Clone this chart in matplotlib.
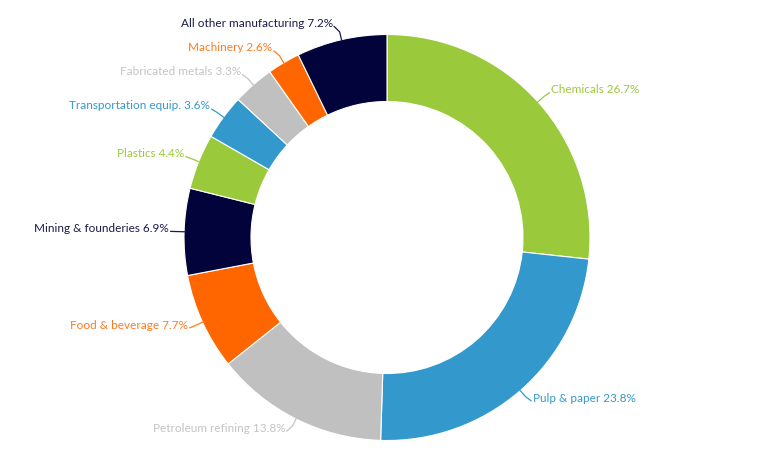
import numpy as np
import matplotlib.pyplot as plt

# share of industrial energy use by sector (%)
sectors = ["Chemicals", "Pulp & paper", "Petroleum refining", "Food & beverage",
           "Mining & founderies", "Plastics", "Transportation equip.",
           "Fabricated metals", "Machinery", "All other manufacturing"]
shares = [26.7, 23.8, 13.8, 7.7, 6.9, 4.4, 3.6, 3.3, 2.6, 7.2]
colors = ["#9aca3c", "#3399cc", "#c0c0c0", "#ff6600", "#02033a",
          "#9aca3c", "#3399cc", "#c0c0c0", "#ff6600", "#02033a"]
text_colors = ["#9aca3c", "#3399cc", "#c4c4c4", "#ff7a1f", "#1b1b4a",
               "#9aca3c", "#3399cc", "#c4c4c4", "#ff7a1f", "#1b1b4a"]

plt.rcParams["font.family"] = ["Lato", "DejaVu Sans"]

fig = plt.figure(figsize=(7.68, 4.7), dpi=100)
ax = fig.add_axes([0, 0, 1, 1])

cx, cy = 387, 232.5
radius = 203

wedges, _ = ax.pie(
    shares,
    colors=colors,
    startangle=90,
    counterclock=False,
    center=(cx, cy),
    radius=radius,
    wedgeprops=dict(width=67, edgecolor="white", linewidth=0.8),
)

ax.set_xlim(0, 768)
ax.set_ylim(0, 470)
ax.set_aspect("equal")
ax.axis("off")

# labels with short leader lines
for w, name, val, tc, lc in zip(wedges, sectors, shares, text_colors, colors):
    ang = np.deg2rad((w.theta1 + w.theta2) / 2)
    dx, dy = np.cos(ang), np.sin(ang)
    p0 = (cx + (radius - 2) * dx, cy + (radius - 2) * dy)
    p1 = (cx + (radius + 8) * dx, cy + (radius + 8) * dy)
    side = 1 if dx >= 0 else -1
    p2 = (p1[0] + side * 6, cy + (radius + 14) * dy)
    ax.plot([p0[0], p1[0], p2[0]], [p0[1], p1[1], p2[1]],
            color=tc, linewidth=0.9, solid_capstyle="butt")
    ax.text(p2[0] + side * 1, p2[1] + 3, f"{name} {val}%",
            color=tc, fontsize=8.5,
            ha="left" if side > 0 else "right", va="center")

plt.savefig("out.png", dpi=100, facecolor="white")
